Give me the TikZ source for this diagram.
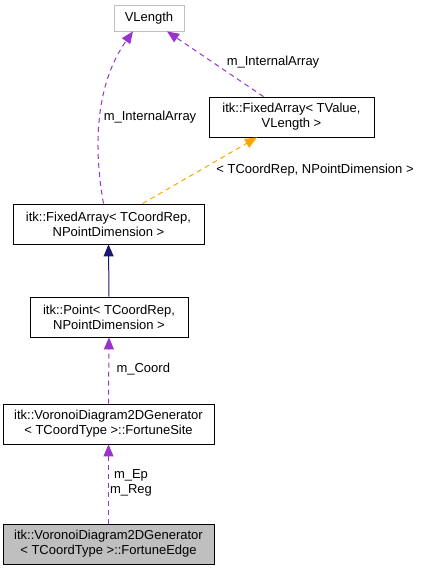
\documentclass[tikz,border=0pt]{standalone}
\usepackage{fontspec}
\setmainfont{Liberation Sans}
\usepackage{tikz}
\usetikzlibrary{calc}
\usetikzlibrary{arrows.meta}

\definecolor{edgepurple}{HTML}{9A32CD}
\definecolor{edgenavy}{HTML}{191970}
\definecolor{edgeorange}{HTML}{FFA500}
\definecolor{boxgray}{HTML}{BFBFBF}

\begin{document}
\begin{tikzpicture}[x=1pt, y=1pt]
	\tikzset{every node/.style = {font=\fontsize{13}{15}\selectfont}}
	\tikzset{cls/.style = {draw, thick, fill = white, align = center, minimum height = 40pt, inner sep = 0pt}}
	\tikzset{tip/.style = {-{Triangle[length = 12pt, width = 10pt]}, line width = 1pt}}
	\tikzset{member/.style = {tip, dash pattern = on 5pt off 4pt, edgepurple}}
	\useasboundingbox (0,0) rectangle (421,571);

%% Class nodes
\draw (149,553) node[name = vlength, draw, boxgray, thick, text = black, minimum width = 70pt, minimum height = 26pt, inner sep = 0pt]{VLength};
\draw (291.5,454) node[cls, name = fixedvalue, minimum width = 165pt]{itk::FixedArray< TValue,\\ VLength >};
\draw (108.5,347) node[cls, name = fixedcoord, minimum width = 191pt]{itk::FixedArray< TCoordRep,\\ NPointDimension >};
\draw (109,254) node[cls, name = point, minimum width = 158pt]{itk::Point< TCoordRep,\\ NPointDimension >};
\draw (108.5,147) node[cls, name = site, minimum width = 211pt]{itk::VoronoiDiagram2DGenerator\\ < TCoordType >::FortuneSite};
\draw (108.5,27) node[cls, name = edge, minimum width = 211pt, fill = boxgray]{itk::VoronoiDiagram2DGenerator\\ < TCoordType >::FortuneEdge};

%% Edges
\draw[member] (edge.north) -- (site.south);
\draw[member] (site.north) -- (point.south);
\draw[tip, edgenavy] (point.north) -- (fixedcoord.south);
\draw[member] ($(fixedcoord.north)+(-5,0)$) .. controls (94,420) and (94,485) .. ($(vlength.south)+(-16,0)$);
\draw[tip, dash pattern = on 5pt off 4pt, edgeorange] ($(fixedcoord.north)+(34,0)$) -- ($(fixedvalue.south)+(-34.5,0)$);
\draw[member] ($(fixedvalue.north)+(-28,0)$) -- ($(vlength.south)+(18,0)$);

%% Labels
\draw (131,88) node[name = epreg, align = center]{m\_Ep\\ m\_Reg};
\draw (113,202) node[name = coord, anchor = west]{m\_Coord};
\draw (150,454) node[name = arrleft]{m\_InternalArray};
\draw (273,509) node[name = arrright]{m\_InternalArray};
\draw (315,401) node[name = targs]{< TCoordRep, NPointDimension >};
\end{tikzpicture}
\end{document}
